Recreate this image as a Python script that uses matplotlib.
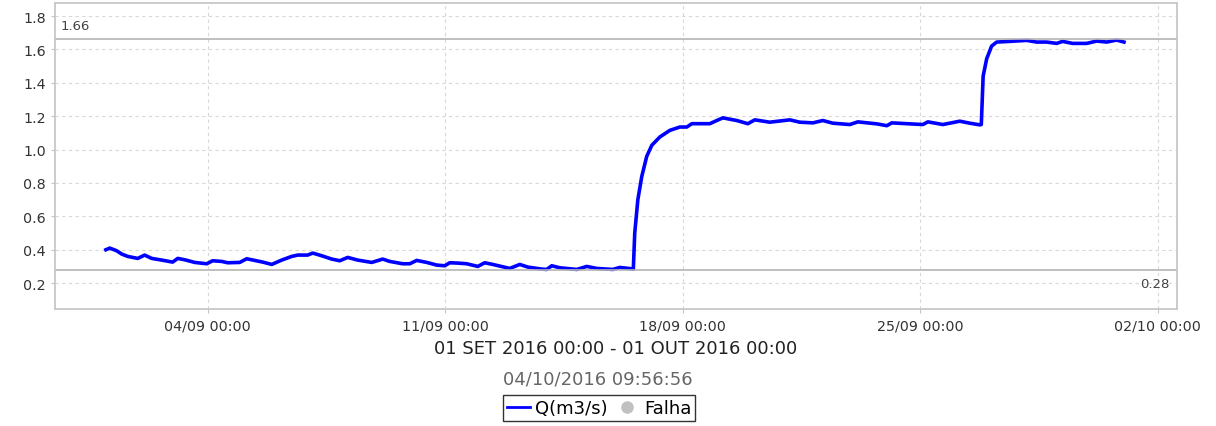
import numpy as np
import matplotlib
matplotlib.use("Agg")
import matplotlib.pyplot as plt
import matplotlib.dates as mdates
from matplotlib.lines import Line2D
from matplotlib.ticker import FormatStrFormatter

# hours after 01/09/2016 00:00 and flow values (m3/s)
hours = [0, 2.7, 7.6, 11.2, 15.4, 22.5, 27.4, 32.4, 39.5, 47.2, 50.8, 55.7,
         62.8, 71.3, 75.5, 81.9, 86.2, 94.6, 99.6, 105.2, 110.9, 117.3, 124.3,
         131.4, 135.7, 142.7, 146.3, 152.6, 159.7, 165.4, 171.0, 178.1, 188.0,
         195.8, 200.7, 209.9, 214.9, 219.8, 226.9, 234.0, 239.6, 243.2, 248.8,
         255.2, 263.0, 267.9, 273.6, 285.6, 292.7, 298.4, 308.3, 311.8, 315.3,
         321.0, 333.0, 340.1, 347.2, 358.5, 363.4, 371.9, 373.0, 374.0, 376.2,
         379.0, 382.5, 386.1, 391.7, 398.8, 405.9, 410.8, 414.4, 427.1, 432.0,
         436.3, 446.2, 454.0, 458.9, 469.5, 483.7, 490.7, 500.0, 507.0, 514.1,
         526.1, 531.8, 545.2, 552.3, 555.8, 568.6, 577.8, 581.3, 591.9, 603.9,
         611.0, 618.1, 619.1, 619.6, 620.4, 622.9, 626.4, 630.0, 639.2, 651.2,
         658.2, 665.3, 672.4, 676.6, 683.7, 693.6, 700.7, 707.8, 714.8, 720.0]
flow = [0.40, 0.41, 0.394, 0.374, 0.36, 0.348, 0.368, 0.348, 0.338, 0.326,
        0.348, 0.34, 0.324, 0.316, 0.334, 0.33, 0.322, 0.324, 0.346, 0.336,
        0.326, 0.312, 0.338, 0.36, 0.368, 0.368, 0.38, 0.364, 0.344, 0.334,
        0.354, 0.338, 0.324, 0.344, 0.33, 0.316, 0.316, 0.336, 0.324, 0.308,
        0.304, 0.322, 0.32, 0.316, 0.30, 0.322, 0.312, 0.288, 0.312, 0.296,
        0.284, 0.282, 0.304, 0.292, 0.282, 0.30, 0.288, 0.282, 0.294, 0.286,
        0.283, 0.50, 0.70, 0.84, 0.96, 1.026, 1.075, 1.115, 1.135, 1.135,
        1.155, 1.155, 1.174, 1.19, 1.174, 1.155, 1.178, 1.164, 1.178, 1.164,
        1.16, 1.174, 1.158, 1.15, 1.166, 1.154, 1.143, 1.16, 1.154, 1.15,
        1.166, 1.15, 1.17, 1.158, 1.148, 1.15, 1.26, 1.44, 1.544, 1.62,
        1.644, 1.648, 1.654, 1.644, 1.644, 1.636, 1.648, 1.636, 1.636, 1.65,
        1.644, 1.656, 1.644]
q_max = 1.66
q_min = 0.28
x_ticks = ["2016-09-04", "2016-09-11", "2016-09-18", "2016-09-25", "2016-10-02"]

start = np.datetime64("2016-09-01T00:00")
times = start + (np.array(hours) * 60).astype("timedelta64[m]")

fig = plt.figure(figsize=(12.16, 4.27), dpi=100)
ax = fig.add_axes([55 / 1216, 117 / 427, 1122 / 1216, 306 / 427])

ax.plot(times, flow, color="#0000ff", lw=2.6, solid_joinstyle="round")
ax.axhline(q_max, color="#b4b4b4", lw=1.2)
ax.axhline(q_min, color="#b4b4b4", lw=1.2)

x0 = mdates.date2num(np.datetime64("2016-08-30T12:00"))
x1 = mdates.date2num(np.datetime64("2016-10-02T13:30"))
ax.set_xlim(x0, x1)
ax.set_ylim(0.045, 1.878)
ax.set_yticks(np.arange(0.2, 1.81, 0.2))
ax.yaxis.set_major_formatter(FormatStrFormatter("%.1f"))
ax.set_xticks([mdates.date2num(np.datetime64(d)) for d in x_ticks])
ax.xaxis.set_major_formatter(mdates.DateFormatter("%d/%m %H:%M"))

ax.grid(True, color="#d8d8d8", ls=(0, (3, 3)), lw=0.8)
for s in ax.spines.values():
    s.set_color("#c4c4c4")
    s.set_linewidth(1.2)
ax.tick_params(length=3, color="#c4c4c4", labelsize=10.3, labelcolor="#333333")

ax.text(0.005, 0.925, "1.66", transform=ax.transAxes, fontsize=9.5,
        color="#444444", ha="left", va="center")
ax.text(0.9937, 0.082, "0.28", transform=ax.transAxes, fontsize=9.5,
        color="#444444", ha="right", va="center")

fig.text(616 / 1216, 1 - 349 / 427, "01 SET 2016 00:00 - 01 OUT 2016 00:00",
         ha="center", va="center", fontsize=13, color="#222222")
fig.text(598 / 1216, 1 - 380 / 427, "04/10/2016 09:56:56",
         ha="center", va="center", fontsize=13, color="#666666")

handles = [Line2D([], [], color="#0000ff", lw=2),
           Line2D([], [], color="#c0c0c0", marker="o", ls="none", ms=8)]
leg = fig.legend(handles, ["Q(m3/s)", "Falha"], loc="center",
                 bbox_to_anchor=(599 / 1216, 1 - 409 / 427), ncol=2,
                 fontsize=13, frameon=True, fancybox=False,
                 handlelength=1.3, handletextpad=0.3, columnspacing=0.4,
                 borderpad=0.2, borderaxespad=0)
leg.get_frame().set_edgecolor("black")
leg.get_frame().set_linewidth(1.0)

fig.savefig("out.png", dpi=100)
